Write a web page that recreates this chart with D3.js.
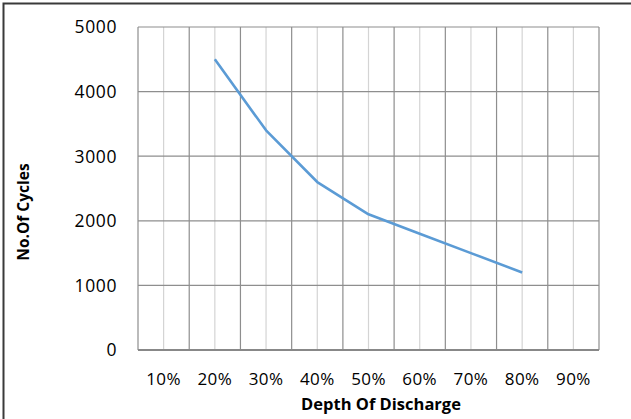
<!DOCTYPE html>
<html><head><meta charset="utf-8">
<script src="https://cdn.jsdelivr.net/npm/d3@7"></script>
<style>body{margin:0;background:#fff}svg{display:block}</style>
</head><body>
<script>
const categories = ["10%","20%","30%","40%","50%","60%","70%","80%","90%"];
const cycles = [null,4500,3400,2600,2100,1800,1500,1200,null];
const yTicks = [0,1000,2000,3000,4000,5000];
const xTitle = "Depth Of Discharge";
const yTitle = "No.Of Cycles";

(function(){
const W = 631, H = 419;
const svg = d3.select("body").append("svg").attr("width",W).attr("height",H);
svg.append("rect").attr("x",0).attr("y",0).attr("width",W).attr("height",H).attr("fill","#fff");
// outer border
svg.append("rect").attr("x",3.5).attr("y",3.5).attr("width",W+10).attr("height",H+10)
  .attr("fill","none").attr("stroke","#3a3a3a").attr("stroke-width",2);

const pL=138, pR=599, pT=27, pB=350;
const x = d3.scaleBand().domain(categories).range([pL,pR]).padding(0);
const y = d3.scaleLinear().domain([0,5000]).range([pB,pT]);
const font = "'Open Sans', sans-serif";

// minor vertical gridlines (centers)
svg.append("g").selectAll("line").data(categories).join("line")
  .attr("x1",d=>x(d)+x.bandwidth()/2).attr("x2",d=>x(d)+x.bandwidth()/2)
  .attr("y1",pT).attr("y2",pB).attr("stroke","#d4d4d4").attr("stroke-width",1.2);
// major vertical gridlines (edges)
const edges = categories.map(d=>x(d)).concat([x(categories[categories.length-1])+x.bandwidth()]);
svg.append("g").selectAll("line").data(edges).join("line")
  .attr("x1",d=>d).attr("x2",d=>d).attr("y1",pT).attr("y2",pB)
  .attr("stroke","#8e8e8e").attr("stroke-width",1.2);
// horizontal gridlines
svg.append("g").selectAll("line").data(yTicks.filter(t=>t>0)).join("line")
  .attr("x1",pL).attr("x2",pR).attr("y1",d=>y(d)).attr("y2",d=>y(d))
  .attr("stroke","#8e8e8e").attr("stroke-width",1.2);
// x axis line
svg.append("line").attr("x1",pL).attr("x2",pR).attr("y1",y(0)).attr("y2",y(0))
  .attr("stroke","#888").attr("stroke-width",2);

// y tick labels
svg.append("g").selectAll("text").data(yTicks).join("text")
  .attr("x",117).attr("y",d=>y(d)).attr("dy","0.36em").attr("text-anchor","end")
  .attr("font-family",font).attr("font-size",17.5).attr("letter-spacing","0.6px").attr("fill","#000")
  .text(d=>d);
// x tick labels
svg.append("g").selectAll("text").data(categories).join("text")
  .attr("x",d=>x(d)+x.bandwidth()/2).attr("y",385).attr("text-anchor","middle")
  .attr("font-family",font).attr("font-size",17).attr("letter-spacing","0.4px").attr("fill","#000")
  .text(d=>d);
// titles
svg.append("text").attr("x",381).attr("y",410).attr("text-anchor","middle")
  .attr("font-family",font).attr("font-weight","bold").attr("font-size",16.5).attr("fill","#000")
  .text(xTitle);
svg.append("text").attr("transform","translate(29,212) rotate(-90)").attr("text-anchor","middle")
  .attr("font-family",font).attr("font-weight","bold").attr("font-size",15.5).attr("fill","#000")
  .text(yTitle);

// line
const line = d3.line().defined(d=>d.v!=null)
  .x(d=>x(d.c)+x.bandwidth()/2).y(d=>y(d.v));
svg.append("path").datum(categories.map((c,i)=>({c,v:cycles[i]})))
  .attr("d",line).attr("fill","none").attr("stroke","#5b9bd5").attr("stroke-width",2.6)
  .attr("stroke-linejoin","round");
})();
</script>
</body></html>
